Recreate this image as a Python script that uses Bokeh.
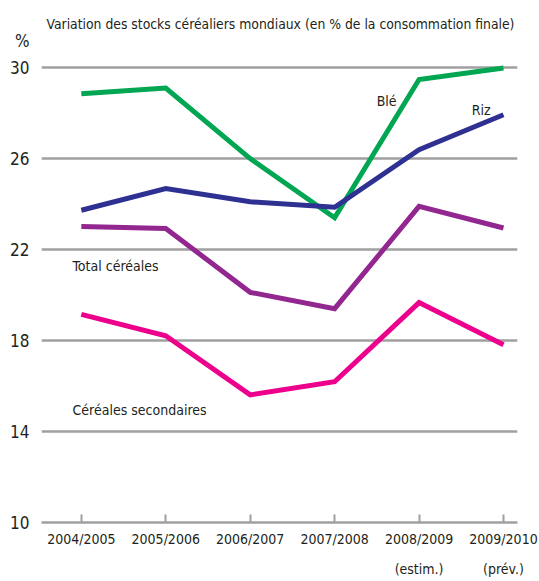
from bokeh.plotting import figure
from bokeh.models import Range1d, FixedTicker, Label, ColumnDataSource
from bokeh.embed import file_html
from bokeh.resources import INLINE

# ---- data ----
campagnes = ["2004/2005", "2005/2006", "2006/2007", "2007/2008",
             "2008/2009\n(estim.)", "2009/2010\n(prév.)"]
ble = [28.85, 29.10, 26.00, 23.40, 29.48, 29.98]
riz = [23.73, 24.68, 24.10, 23.86, 26.39, 27.93]
total_cereales = [23.01, 22.93, 20.12, 19.40, 23.90, 22.95]
cereales_secondaires = [19.15, 18.21, 15.61, 16.19, 19.67, 17.82]
y_ticks = [10, 14, 18, 22, 26, 30]
unit_tick = 31.16
titre = "Variation des stocks céréaliers mondiaux (en % de la consommation finale)"

FONT = "DejaVu Sans Condensed, Roboto Condensed, Roboto"
TXT = "#231F20"

idx = list(range(len(campagnes)))

p = figure(width=539, height=581, output_backend="svg", toolbar_location=None,
           x_range=Range1d(-0.4716, 5.166), y_range=Range1d(10, 32.6),
           min_border_left=41, min_border_right=22, min_border_top=8,
           min_border_bottom=59, background_fill_color="white",
           border_fill_color="white", outline_line_color=None)

series = [
    (ble, "#00A651"),
    (riz, "#2E3192"),
    (total_cereales, "#92278F"),
    (cereales_secondaires, "#EC008C"),
]
for vals, col in series:
    src = ColumnDataSource(dict(x=idx, y=vals))
    p.line("x", "y", source=src, line_color=col, line_width=5,
           line_join="miter", line_cap="butt")

# x axis
xa = p.xaxis[0]
xa.ticker = FixedTicker(ticks=idx)
xa.major_label_overrides = {i: lab for i, lab in enumerate(campagnes)}
xa.axis_line_color = "#A0A0A0"
xa.axis_line_width = 2.5
xa.major_tick_line_color = "#A0A0A0"
xa.major_tick_line_width = 2
xa.major_tick_in = 8
xa.major_tick_out = 0
xa.minor_tick_line_color = None
xa.major_label_standoff = 8
xa.major_label_text_font = FONT
xa.major_label_text_font_size = "14px"
xa.major_label_text_color = TXT
xa.major_label_text_line_height = 1.9

# y axis (unit "%" shown above the top value)
ya = p.yaxis[0]
ya.ticker = FixedTicker(ticks=y_ticks + [unit_tick])
ya.major_label_overrides = {unit_tick: "%"}
ya.axis_line_color = None
ya.major_tick_line_color = None
ya.minor_tick_line_color = None
ya.major_tick_in = 0
ya.major_tick_out = 0
ya.major_label_standoff = 12
ya.major_label_text_font = FONT
ya.major_label_text_font_size = "17px"
ya.major_label_text_color = TXT

p.xgrid.grid_line_color = None
p.ygrid.ticker = FixedTicker(ticks=y_ticks)
p.ygrid.grid_line_color = "#A0A0A0"
p.ygrid.grid_line_width = 2.5

# series labels
for txt, x, y in [("Blé", 3.498, 28.52), ("Riz", 4.623, 28.12),
                  ("Total céréales", -0.104, 21.26),
                  ("Céréales secondaires", -0.104, 14.93)]:
    p.add_layout(Label(x=x, y=y, text=txt, text_font=FONT,
                       text_font_size="14px", text_color=TXT,
                       text_baseline="middle", text_align="left"))

# title
p.add_layout(Label(x=-0.412, y=31.9, text=titre, text_font=FONT,
                   text_font_size="13.8px", text_color=TXT,
                   text_baseline="middle", text_align="left"))

open("out.html", "w").write(file_html(p, INLINE))
